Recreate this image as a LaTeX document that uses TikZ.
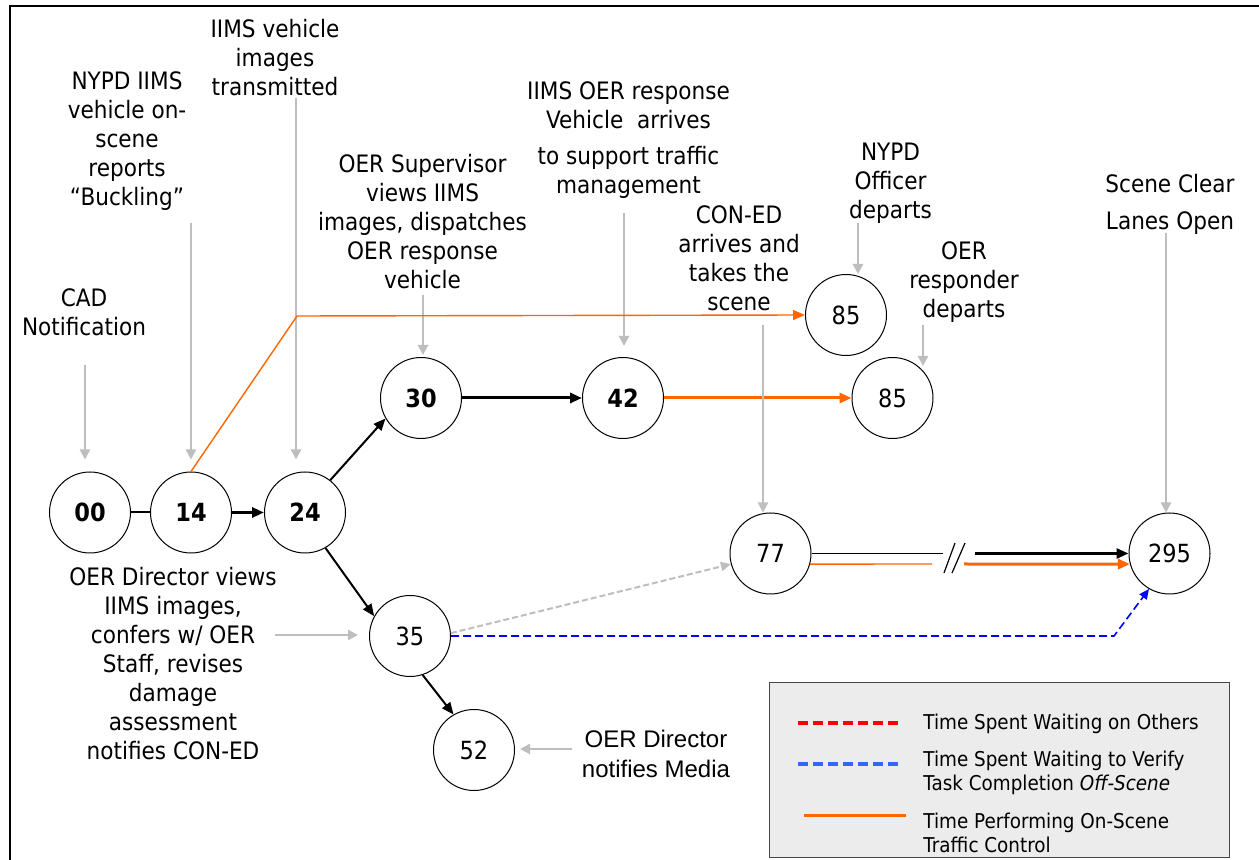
\documentclass[tikz,border=0pt]{standalone}
\usepackage{fontspec}
\setmainfont{DejaVu Sans}[FakeStretch=0.9]
\newfontfamily\arialf{Liberation Sans}
\usetikzlibrary{arrows.meta,calc}
\definecolor{gline}{RGB}{190,190,190}
\definecolor{orng}{RGB}{255,102,0}
\definecolor{legbg}{RGB}{236,236,236}
\definecolor{legbd}{RGB}{70,70,70}
\definecolor{lblue}{RGB}{51,102,255}
\begin{document}
\begin{tikzpicture}[x=0.5pt,y=-0.5pt,
  ev/.style={circle,draw,line width=0.5pt,minimum size=40.5pt,inner sep=0pt,font=\fontsize{12.5}{14}\selectfont\bfseries},
  evr/.style={ev,font=\fontsize{12.5}{14}\selectfont},
  lbl/.style={align=center,inner sep=0pt,anchor=north,font=\fontsize{12}{14.5}\selectfont},
  ltxt/.style={align=left,inner sep=0pt,anchor=north west,font=\fontsize{10.2}{11.85}\selectfont},
  garr/.style={draw=gline,line width=1.2pt,-{Triangle[length=5pt,width=5pt]}},
  barr/.style={line width=1pt,-{Triangle[length=6pt,width=5pt]}},
  oarr/.style={draw=orng,line width=1.5pt,-{Triangle[length=6pt,width=5pt]}},
  gdash/.style={draw=gline,line width=1pt,dash pattern=on 3pt off 1.5pt,-{Triangle[length=5pt,width=4.5pt]}},
  bdash/.style={draw=blue,line width=0.8pt,dash pattern=on 4pt off 2pt,-{Triangle[length=5pt,width=4.5pt]}}
]
\fill[white] (0,0) rectangle (1259,860);
\useasboundingbox (0,0) rectangle (1259,860);
\draw[line width=1pt] (10,860) -- (10,6) -- (1259,6);

% events
\node[ev] (n00) at (90,512.5) {00};
\node[ev] (n14) at (191,512.5) {14};
\node[ev] (n24) at (305,512.5) {24};
\node[ev] (n30) at (421,398) {30};
\node[ev] (n42) at (623,398) {42};
\node[evr] (n85a) at (846,315) {85};
\node[evr] (n85b) at (892.5,398) {85};
\node[evr] (n35) at (410,636) {35};
\node[evr] (n52) at (474,750) {52};
\node[evr] (n77) at (770.5,553.5) {77};
\node[evr] (n295) at (1169.5,553.5) {295};

% labels
\node[lbl] (tCAD) at (84,288) {CAD\\Notification};
\node[lbl] (tNYPD) at (127,71) {NYPD IIMS\\vehicle on-\\scene\\reports\\``Buckling''};
\node[lbl] (tImg) at (275,19) {IIMS vehicle\\images\\transmitted};
\node[lbl] (tSup) at (422.5,154) {OER Supervisor\\views IIMS\\images, dispatches\\OER response\\vehicle};
\node[lbl] (tResp) at (628.5,81) {IIMS OER response\\Vehicle\ \ arrives\\[3.8pt]to support traffic\\management};
\node[lbl] (tCon) at (739,205) {CON-ED\\arrives and\\takes the\\scene};
\node[lbl] (tOff) at (890.5,143) {NYPD\\Officer\\departs};
\node[lbl] (tRes) at (964,241) {OER\\responder\\departs};
\node[lbl] (tClr) at (1170,174) {Scene Clear\\[3.8pt]Lanes Open};
\node[lbl] (tDir) at (173,567) {OER Director views\\IIMS images,\\confers w/ OER\\Staff, revises\\damage\\assessment\\notifies CON-ED};
\node[lbl,font=\arialf\fontsize{12}{15}\selectfont] (tMed) at (656,730) {OER Director\\notifies Media};

% gray annotation arrows
\coordinate (sCAD) at (85,365);
\draw[garr,shorten >=6pt] (sCAD) -- (sCAD |- n00.north);
\coordinate (sNYPD) at (191,223);
\draw[garr,shorten >=6pt] (sNYPD) -- (sNYPD |- n14.north);
\coordinate (sImg) at (296,98);
\draw[garr,shorten >=6pt] (sImg) -- (sImg |- n24.north);
\coordinate (sSup) at (423,295);
\draw[garr,shorten >=1pt] (sSup) -- (sSup |- n30.north);
\coordinate (sResp) at (624,213);
\draw[garr,shorten >=5.5pt] (sResp) -- (sResp |- n42.north);
\coordinate (sOff) at (858,223);
\draw[garr] (sOff) -- (sOff |- n85a.north);
\coordinate (sRes) at (923,325);
\draw[garr] (sRes) -- ($(sRes |- n85b.north)+(0,9)$);
\coordinate (sClr) at (1166,233);
\draw[garr] (sClr) -- (sClr |- n295.north);
\coordinate (sDir) at (275,635);
\draw[garr,shorten >=5.5pt] (sDir) -- (sDir -| n35.west);
\coordinate (sMed) at (572,749);
\draw[garr,shorten >=2.5pt] (sMed) -- (sMed -| n52.east);

% black flow
\draw[line width=1pt] (n00) -- (n14);
\draw[barr,line width=1.5pt] (n14) -- (n24);
\draw[barr] (n24.52) -- (n30.210);
\draw[barr] (n24.-60) -- (n35.151);
\draw[barr] (n35.-72) -- (n52.120);
\draw[barr,line width=1.5pt] (n30) -- (n42);

% orange
\draw[oarr] (n42) -- (n85b);
\coordinate (oc) at (297,316);
\draw[draw=orng,line width=0.7pt,-{Triangle[length=6pt,width=5pt]}] (n14.north) -- (oc) -- (n85a.west);

% CON-ED annotation over orange
\coordinate (sCon) at (763,325);
\draw[garr] (sCon) -- (sCon |- n77.north);

% dashed
\draw[gdash] (n35.4) -- (n77.195);
\coordinate (bc) at (1114,636);
\draw[bdash] (n35.east) -- (bc) -- (n295.240);

% 77 -> 295 with break
\coordinate (k1) at (943,553.5);
\coordinate (k2) at (975,553.5);
\draw[line width=0.7pt] (n77.east) -- (k1);
\draw[barr,line width=1.4pt] (k2) -- (n295.west);
\coordinate (k3) at (932,564);
\coordinate (k4) at (964,564);
\draw[draw=orng,line width=0.7pt] (n77.-15) -- (k3);
\draw[oarr] (k4) -- (n295.195);
\draw[line width=0.6pt] (944,573) -- (955,543) (952,573) -- (965,543);

% legend
\node[draw=legbd,fill=legbg,line width=0.7pt,minimum width=230pt,minimum height=87.5pt,inner sep=0pt,anchor=north west] (leg) at (769,682) {};
\draw[red,line width=2pt,dash pattern=on 5pt off 2.5pt] (798,722.7) -- (902,722.7);
\draw[lblue,line width=2pt,dash pattern=on 5pt off 2.5pt] (798,764) -- (902,764);
\draw[orng,line width=1.5pt] (804,815) -- (906,815);
\node[ltxt] (l1) at (923,714) {Time Spent Waiting on Others};
\node[ltxt] (l2) at (923,750.5) {Time Spent Waiting to Verify\\Task Completion \textit{Off-Scene}};
\node[ltxt] (l3) at (923,812.5) {Time Performing On-Scene\\Traffic Control};
\end{tikzpicture}
\end{document}
